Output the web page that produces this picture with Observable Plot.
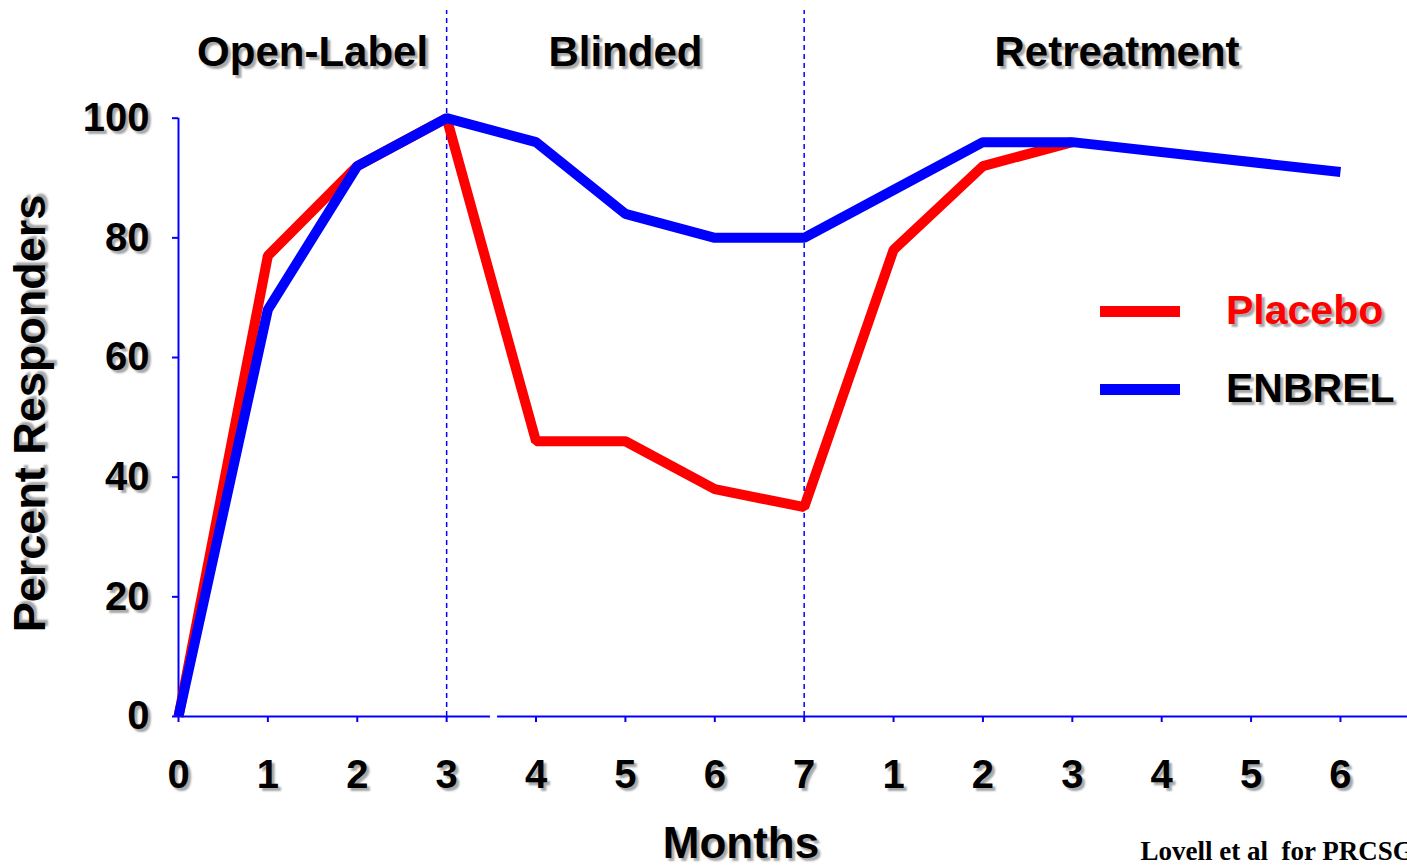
<!DOCTYPE html>
<html>
<head>
<meta charset="utf-8">
<script src="https://cdn.jsdelivr.net/npm/d3@7"></script>
<script src="https://cdn.jsdelivr.net/npm/@observablehq/plot@0.6"></script>
<style>
  html, body { margin: 0; padding: 0; background: white; }
  #wrap { position: relative; width: 1407px; height: 867px; overflow: hidden; }
  #wrap svg text { text-shadow: 3px 3px 2px rgba(0,0,0,0.35); }
  #wrap svg text.noshadow, #wrap svg .noshadow text { text-shadow: none; }
  .leg { position: absolute; font-family: "Liberation Sans", Arial, sans-serif; font-weight: bold; font-size: 41px; line-height: 1; text-shadow: 3px 3px 2px rgba(0,0,0,0.35); }
  .legline { position: absolute; width: 80px; height: 11px; }
</style>
</head>
<body>
<div id="wrap"></div>
<script>
const xLabels = ["0","1","2","3","4","5","6","7","1","2","3","4","5","6"];
const yTicks = [0, 20, 40, 60, 80, 100];
const placeboIdx = [0, 1, 2, 3, 4, 5, 6, 7, 8, 9, 10];
const placeboVals = [0, 77, 92, 100, 46, 46, 38, 35, 78, 92, 96];
const enbrelIdx = [0, 1, 2, 3, 4, 5, 6, 7, 8, 9, 10, 13];
const enbrelVals = [0, 68, 92, 100, 96, 84, 80, 80, 88, 96, 96, 91];
const phaseNames = ["Open-Label", "Blinded", "Retreatment"];
const phaseStart = [0, 3, 7];
const phaseEnd = [3, 7, 14];
const axisBreak = [3.49, 3.57];

const RED = "#ff0000", BLUE = "#0000ff";
const placebo = placeboIdx.map((x, k) => ({x, v: placeboVals[k]}));
const enbrel = enbrelIdx.map((x, k) => ({x, v: enbrelVals[k]}));
const phases = phaseNames.map((name, k) => ({name, mid: (phaseStart[k] + phaseEnd[k]) / 2}));

const chart = Plot.plot({
  width: 1407, height: 867,
  marginLeft: 178, marginRight: 0, marginTop: 10, marginBottom: 151,
  x: {domain: [0, 13.75]},
  y: {domain: [0, 118]},
  style: {fontFamily: "'Liberation Sans', Arial, sans-serif", background: "white", overflow: "visible"},
  marks: [
    Plot.ruleX(phaseStart.slice(1), {y1: 0, y2: 118, stroke: BLUE, strokeWidth: 1.5, strokeDasharray: "5,4"}),
    Plot.ruleY([0], {stroke: BLUE, strokeWidth: 2}),
    Plot.rect([axisBreak], {x1: d => d[0], x2: d => d[1], y1: -2, y2: 2, fill: "white"}),
    Plot.ruleX([0], {y1: 0, y2: 100, stroke: BLUE, strokeWidth: 2}),
    Plot.axisX({ticks: d3.range(14), tickFormat: i => xLabels[i], tickSize: 6, tickPadding: 37,
      fontSize: 40, fontWeight: "bold", stroke: BLUE, strokeWidth: 2, fill: "black", label: null}),
    Plot.axisY({ticks: yTicks, tickSize: 6, tickPadding: 23, fontSize: 40, fontWeight: "bold",
      stroke: BLUE, strokeWidth: 2, fill: "black", label: null}),
    Plot.line(placebo, {x: "x", y: "v", stroke: RED, strokeWidth: 10, strokeLinejoin: "miter", strokeLinecap: "butt"}),
    Plot.line(enbrel, {x: "x", y: "v", stroke: BLUE, strokeWidth: 10, strokeLinejoin: "miter", strokeLinecap: "butt"}),
    Plot.text(phases, {x: "mid", frameAnchor: "top", dy: 42, text: "name", fontSize: 42, fontWeight: "bold", fill: "black", lineAnchor: "middle"}),
    Plot.text(["Months"], {frameAnchor: "bottom", dy: 141, dx: -52, lineAnchor: "bottom", fontSize: 44, fontWeight: "bold", fill: "black"}),
    Plot.text(["Percent Responders"], {frameAnchor: "left", textAnchor: "middle", dx: -148, dy: 50, rotate: -90, fontSize: 45, fontWeight: "bold", fill: "black"}),
    Plot.text(["Lovell et al  for PRCSG"], {frameAnchor: "bottom-right", dx: -267, dy: 143, textAnchor: "start", lineAnchor: "bottom",
      fontSize: 27, fontWeight: "bold", fontFamily: "'Liberation Serif', 'Times New Roman', serif", fill: "black", className: "noshadow"})
  ]
});
const wrap = document.getElementById("wrap");
wrap.appendChild(chart);

const legend = [{name: "Placebo", color: RED, text: RED}, {name: "ENBREL", color: BLUE, text: "black"}];
legend.forEach((d, k) => {
  const cy = 311 + k * 78;
  const ln = document.createElement("div");
  ln.className = "legline";
  ln.style.left = "1100px"; ln.style.top = (cy - 5) + "px"; ln.style.background = d.color;
  wrap.appendChild(ln);
  const t = document.createElement("div");
  t.className = "leg";
  t.textContent = d.name;
  t.style.left = "1226px"; t.style.top = (cy - 21) + "px"; t.style.color = d.text;
  wrap.appendChild(t);
});
</script>
</body>
</html>
